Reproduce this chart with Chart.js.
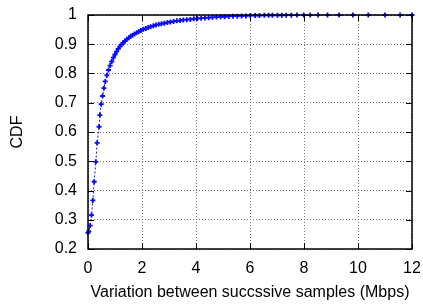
<!DOCTYPE html>
<html>
<head>
<meta charset="utf-8">
<script src="https://cdn.jsdelivr.net/npm/chart.js@4"></script>
<style>
  html, body { margin: 0; padding: 0; background: #fff; }
  #wrap { width: 423px; height: 306px; }
</style>
</head>
<body>
<div id="wrap"><canvas id="chart" width="423" height="306"></canvas></div>
<script>
// samples (Mbps, CDF)
const variation = [
  0.00, 0.03, 0.08, 0.13, 0.18, 0.23, 0.29, 0.34, 0.41, 0.44,
  0.49, 0.54, 0.59, 0.64, 0.70, 0.76, 0.82, 0.88, 0.94, 1.00,
  1.06, 1.12, 1.18, 1.24, 1.30, 1.37, 1.44, 1.51, 1.58, 1.65,
  1.72, 1.80, 1.88, 1.96, 2.05, 2.14, 2.23, 2.32, 2.42, 2.52,
  2.62, 2.72, 2.83, 2.94, 3.05, 3.17, 3.29, 3.41, 3.53, 3.66,
  3.79, 3.92, 4.05, 4.19, 4.33, 4.47, 4.61, 4.76, 4.91, 5.06,
  5.21, 5.37, 5.53, 5.69, 5.85, 6.01, 6.19, 6.35, 6.53, 6.69,
  6.83, 7.02, 7.18, 7.34, 7.53, 7.74, 7.99, 8.23, 8.52, 8.87,
  9.30, 9.81, 10.38, 11.00, 11.56, 12.00
];
const cdf = [
  0.255, 0.260, 0.280, 0.316, 0.366, 0.430, 0.498, 0.563, 0.618, 0.658,
  0.695, 0.723, 0.750, 0.773, 0.794, 0.812, 0.827, 0.841, 0.854, 0.865,
  0.875, 0.884, 0.892, 0.899, 0.905, 0.911, 0.917, 0.922, 0.927, 0.931,
  0.935, 0.939, 0.943, 0.947, 0.951, 0.954, 0.957, 0.960, 0.963, 0.966,
  0.968, 0.970, 0.972, 0.974, 0.976, 0.978, 0.980, 0.981, 0.983, 0.984,
  0.985, 0.987, 0.988, 0.989, 0.990, 0.991, 0.992, 0.993, 0.994, 0.994,
  0.995, 0.996, 0.996, 0.997, 0.997, 0.998, 0.998, 0.998, 0.999, 0.999,
  0.999, 0.999, 0.999, 0.9993, 0.9995, 0.9996, 0.9997, 0.9998, 0.9998, 0.9999,
  0.9999, 1.0, 1.0, 1.0, 1.0, 1.0
];
const xTicks = [0, 2, 4, 6, 8, 10, 12];
const yTicks = [0.2, 0.3, 0.4, 0.5, 0.6, 0.7, 0.8, 0.9, 1];

const points = variation.map((v, i) => ({ x: v, y: cdf[i] }));

// gnuplot style frame with inward tick marks
const frame = {
  id: "frame",
  afterDatasetsDraw(chart) {
    const { ctx, chartArea: a, scales } = chart;
    ctx.save();
    ctx.strokeStyle = "#000";
    ctx.lineWidth = 1;
    ctx.beginPath();
    xTicks.forEach(t => {
      const px = Math.round(scales.x.getPixelForValue(t)) + 0.5;
      ctx.moveTo(px, a.bottom); ctx.lineTo(px, a.bottom - 6);
      ctx.moveTo(px, a.top); ctx.lineTo(px, a.top + 6);
    });
    yTicks.forEach(t => {
      const py = Math.round(scales.y.getPixelForValue(t)) + 0.5;
      ctx.moveTo(a.left, py); ctx.lineTo(a.left + 6, py);
      ctx.moveTo(a.right, py); ctx.lineTo(a.right - 6, py);
    });
    ctx.stroke();
    ctx.lineWidth = 1.5;
    ctx.strokeRect(a.left, a.top, a.right - a.left, a.bottom - a.top);
    ctx.restore();
  }
};

const font = { family: "'Liberation Sans', Arial, sans-serif", size: 16 };

new Chart(document.getElementById("chart"), {
  type: "scatter",
  data: {
    datasets: [{
      data: points,
      showLine: true,
      borderColor: "rgb(20,20,255)",
      borderWidth: 1,
      borderDash: [2, 2],
      pointStyle: "cross",
      pointRadius: 2.5,
      pointBorderWidth: 1.8,
      pointBorderColor: "rgb(10,10,255)",
      pointBackgroundColor: "rgb(10,10,255)",
      clip: false
    }]
  },
  options: {
    responsive: false,
    animation: false,
    layout: { padding: { left: 0, right: 11, top: 15, bottom: 0 } },
    plugins: { legend: { display: false }, tooltip: { enabled: false } },
    scales: {
      x: {
        type: "linear",
        min: 0, max: 12,
        afterBuildTicks: s => { s.ticks = xTicks.map(v => ({ value: v })); },
        afterFit: s => { s.height = 57; s.paddingLeft = 0; s.paddingRight = 0; },
        grid: { color: "#777", drawTicks: false },
        border: { display: false, dash: [1, 2] },
        ticks: { color: "#000", font, padding: 10, maxRotation: 0, callback: v => String(v) },
        title: { display: true, text: "Variation between succssive samples (Mbps)", color: "#000", font, padding: { top: 0, bottom: 4 } }
      },
      y: {
        type: "linear",
        min: 0.2, max: 1,
        afterBuildTicks: s => { s.ticks = yTicks.map(v => ({ value: v })); },
        afterFit: s => { s.width = 88; s.paddingTop = 0; s.paddingBottom = 0; },
        grid: { color: "#777", drawTicks: false },
        border: { display: false, dash: [1, 2] },
        ticks: { color: "#000", font, padding: 11, callback: v => String(Math.round(v * 10) / 10) },
        title: { display: true, text: "CDF", color: "#000", font, padding: { top: 8, bottom: 0 } }
      }
    }
  },
  plugins: [frame]
});
</script>
</body>
</html>
